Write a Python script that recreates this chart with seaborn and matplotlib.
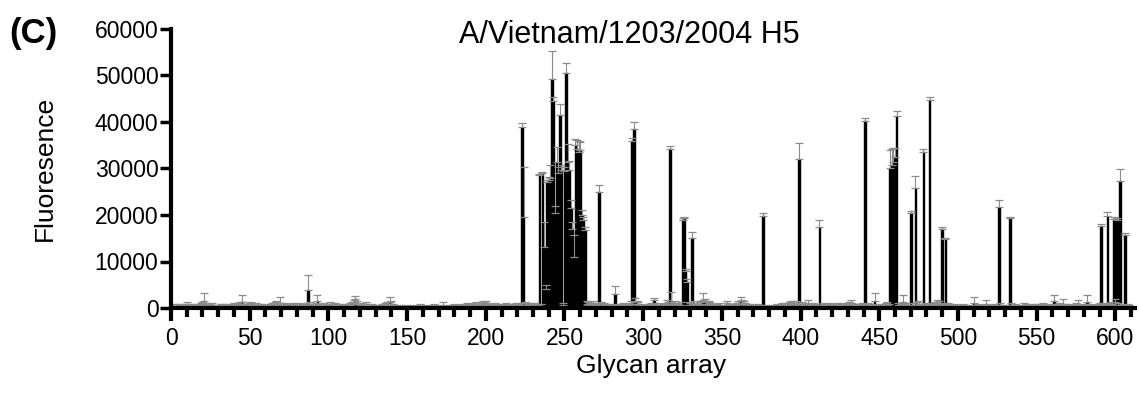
import numpy as np
import pandas as pd
import matplotlib
matplotlib.use("Agg")
import matplotlib.pyplot as plt
import seaborn as sns

# ---------------- data ----------------
# background signal of the 610 glycans (in units of 100 RFU), 10 per row
baseline_hundreds = [
    3, 5, 2, 4, 6, 3, 2, 5, 4, 7,
    5, 3, 4, 6, 2, 3, 5, 4, 6, 8,
    15, 6, 4, 3, 5, 7, 4, 3, 2, 4,
    3, 5, 4, 2, 6, 3, 4, 5, 3, 6,
    4, 6, 5, 7, 13, 8, 5, 4, 3, 6,
    7, 5, 4, 6, 3, 5, 4, 3, 2, 4,
    5, 3, 4, 6, 5, 7, 8, 6, 10, 5,
    4, 6, 5, 3, 4, 5, 6, 4, 3, 5,
    6, 4, 5, 3, 4, 6, 39, 7, 5, 4,
    5, 6, 14, 5, 4, 3, 6, 4, 5, 3,
    7, 5, 4, 6, 3, 5, 4, 3, 5, 4,
    3, 5, 4, 6, 8, 12, 20, 10, 5, 4,
    6, 4, 5, 7, 5, 3, 4, 5, 3, 4,
    3, 2, 4, 5, 3, 6, 8, 7, 12, 9,
    5, 4, 3, 2, 3, 4, 2, 3, 4, 3,
    2, 3, 2, 4, 3, 2, 3, 5, 4, 3,
    3, 4, 3, 2, 3, 4, 5, 3, 2, 3,
    4, 3, 5, 4, 3, 2, 3, 4, 3, 5,
    4, 3, 2, 4, 5, 3, 4, 6, 5, 4,
    6, 5, 4, 7, 5, 4, 6, 8, 7, 9,
    6, 5, 4, 3, 5, 6, 4, 5, 4, 3,
    5, 4, 6, 5, 4, 3, 5, 4, 6, 5,
    5, 6, 4, 5, 7, 6, 5, 4, 6, 5,
    6, 5, 4, 6, 5, 4, 5, 6, 5, 4,
    5, 6, 5, 4, 5, 6, 5, 4, 6, 5,
    5, 6, 5, 4, 5, 6, 5, 4, 6, 5,
    5, 6, 8, 9, 7, 6, 5, 8, 6, 5,
    6, 5, 7, 4, 6, 5, 4, 5, 3, 4,
    5, 30, 4, 3, 5, 4, 6, 3, 4, 5,
    6, 8, 5, 4, 12, 9, 7, 5, 4, 3,
    4, 3, 5, 4, 6, 5, 18, 6, 4, 3,
    4, 5, 6, 4, 9, 7, 5, 13, 6, 8,
    6, 5, 4, 7, 5, 5, 5, 5, 7, 6,
    5, 8, 6, 5, 4, 7, 9, 18, 12, 8,
    7, 12, 6, 5, 4, 3, 5, 6, 4, 3,
    4, 3, 10, 5, 4, 3, 5, 4, 6, 9,
    8, 15, 10, 9, 6, 5, 4, 3, 5, 4,
    3, 4, 5, 3, 4, 5, 3, 4, 2, 3,
    4, 3, 2, 4, 5, 3, 4, 6, 5, 4,
    6, 5, 7, 8, 6, 9, 8, 6, 5, 4,
    7, 5, 4, 6, 9, 5, 4, 6, 5, 4,
    3, 5, 4, 6, 5, 4, 3, 5, 6, 4,
    5, 4, 3, 6, 5, 4, 6, 5, 4, 5,
    7, 10, 6, 5, 4, 3, 5, 4, 6, 5,
    5, 4, 6, 5, 4, 3, 15, 5, 4, 3,
    4, 5, 3, 6, 7, 5, 8, 5, 5, 5,
    5, 6, 4, 5, 12, 5, 6, 4, 3, 5,
    6, 4, 5, 7, 8, 5, 4, 5, 6, 4,
    5, 4, 6, 5, 7, 6, 10, 9, 6, 5,
    5, 5, 4, 6, 5, 4, 3, 5, 4, 3,
    4, 3, 5, 4, 3, 4, 2, 3, 4, 10,
    4, 3, 5, 4, 3, 2, 4, 8, 4, 3,
    3, 4, 5, 3, 4, 5, 6, 4, 3, 4,
    3, 4, 5, 6, 4, 5, 3, 4, 2, 3,
    4, 6, 5, 4, 3, 4, 5, 3, 4, 5,
    4, 5, 3, 6, 4, 5, 4, 3, 4, 5,
    15, 5, 4, 6, 5, 4, 8, 5, 4, 3,
    4, 5, 3, 4, 6, 7, 5, 4, 3, 4,
    5, 12, 4, 3, 5, 4, 3, 4, 5, 6,
    5, 6, 5, 4, 5, 6, 7, 5, 6, 12,
    5, 6, 5, 4, 5, 6, 4, 5, 4, 3,
]

# SEM of the background signal (units of 100 RFU)
baseline_err_hundreds = [
    2, 3, 2, 4, 3, 2, 3, 4, 2, 5,
    3, 2, 4, 3, 2, 3, 4, 3, 4, 5,
    18, 4, 3, 2, 3, 4, 3, 2, 2, 3,
    2, 3, 4, 2, 3, 2, 3, 4, 2, 4,
    3, 4, 3, 5, 16, 5, 3, 3, 2, 4,
    5, 3, 3, 4, 2, 3, 4, 2, 2, 3,
    3, 2, 3, 4, 3, 5, 6, 4, 14, 3,
    3, 4, 3, 2, 3, 4, 5, 3, 2, 3,
    4, 3, 3, 2, 3, 4, 33, 5, 3, 3,
    4, 5, 15, 3, 3, 2, 4, 3, 4, 2,
    5, 4, 3, 4, 2, 3, 3, 2, 4, 3,
    2, 3, 3, 4, 5, 5, 6, 6, 4, 3,
    4, 3, 3, 5, 4, 2, 3, 4, 2, 3,
    2, 2, 3, 4, 2, 4, 5, 5, 12, 6,
    3, 3, 2, 2, 2, 3, 2, 2, 3, 2,
    2, 2, 2, 3, 2, 2, 2, 4, 3, 2,
    2, 3, 2, 2, 2, 3, 4, 2, 2, 2,
    3, 2, 8, 3, 2, 2, 2, 3, 2, 4,
    3, 2, 2, 3, 4, 2, 3, 5, 4, 3,
    5, 4, 3, 6, 4, 3, 5, 6, 5, 7,
    5, 4, 3, 2, 4, 5, 3, 4, 3, 2,
    4, 3, 5, 4, 3, 2, 4, 3, 5, 4,
    4, 5, 3, 4, 5, 4, 3, 3, 4, 4,
    5, 4, 3, 4, 4, 3, 4, 5, 4, 3,
    4, 5, 4, 3, 4, 5, 4, 3, 5, 4,
    4, 5, 4, 3, 4, 5, 4, 3, 5, 4,
    4, 5, 6, 7, 5, 4, 4, 6, 5, 4,
    5, 4, 5, 3, 5, 4, 3, 4, 2, 3,
    4, 18, 3, 2, 4, 3, 5, 2, 3, 4,
    5, 6, 4, 3, 10, 7, 5, 4, 3, 2,
    3, 2, 4, 3, 5, 4, 4, 5, 3, 2,
    3, 4, 5, 3, 8, 6, 4, 22, 5, 6,
    5, 4, 3, 6, 4, 4, 4, 4, 6, 5,
    4, 6, 5, 4, 3, 6, 7, 15, 8, 6,
    5, 4, 5, 4, 3, 2, 4, 5, 3, 2,
    3, 2, 6, 4, 3, 2, 4, 3, 5, 7,
    6, 8, 7, 7, 5, 4, 3, 2, 4, 3,
    2, 3, 4, 2, 3, 4, 2, 3, 2, 2,
    3, 2, 2, 3, 4, 2, 3, 5, 4, 3,
    5, 4, 6, 6, 5, 7, 6, 5, 4, 3,
    6, 4, 3, 5, 8, 4, 3, 5, 4, 3,
    2, 4, 3, 5, 4, 3, 2, 4, 5, 3,
    4, 3, 2, 5, 4, 3, 5, 4, 3, 4,
    5, 8, 5, 4, 3, 2, 4, 3, 5, 4,
    4, 3, 5, 4, 3, 2, 18, 4, 3, 2,
    3, 4, 2, 5, 6, 4, 6, 4, 4, 4,
    4, 5, 3, 4, 16, 4, 5, 3, 2, 4,
    5, 3, 4, 5, 6, 4, 3, 4, 5, 3,
    4, 3, 5, 4, 5, 5, 8, 7, 5, 4,
    4, 4, 3, 5, 4, 3, 2, 4, 3, 2,
    3, 2, 4, 3, 2, 3, 2, 2, 3, 14,
    3, 2, 4, 3, 2, 2, 3, 10, 3, 2,
    2, 3, 4, 2, 3, 4, 5, 3, 2, 3,
    2, 3, 4, 5, 3, 4, 2, 3, 2, 2,
    3, 5, 4, 3, 2, 3, 4, 2, 3, 4,
    3, 4, 2, 5, 3, 4, 3, 2, 3, 4,
    14, 4, 3, 5, 4, 3, 12, 4, 3, 2,
    3, 4, 2, 3, 5, 11, 4, 3, 2, 3,
    4, 17, 3, 2, 4, 3, 2, 3, 4, 5,
    4, 5, 4, 3, 4, 5, 6, 4, 5, 8,
    4, 5, 4, 3, 4, 5, 3, 4, 3, 2,
]

# strongly bound glycans (RFU and SEM)
peak_ids = [223, 224, 234, 236, 237, 238, 239, 240, 241, 242, 243, 244, 245, 246,
            247, 248, 249, 250, 251, 252, 253, 254, 255, 256, 257, 258, 259, 260,
            261, 262, 263, 272, 282, 293, 294, 317, 325, 326, 327, 328, 331, 376,
            399, 412, 441, 457, 458, 459, 460, 461, 470, 473, 478, 482, 490, 492,
            526, 533, 591, 595, 599, 601, 603, 606]
peak_rfu = [39000, 19500, 28500, 29000, 13200, 4000, 27000, 27500, 28000, 49200, 44500, 20500, 31500, 29000,
            41600, 29700, 700, 29500, 50500, 31300, 29700, 21500, 17000, 11000, 35000, 34200, 33500, 34000,
            20000, 18900, 16800, 25000, 3000, 36000, 38400, 34100, 19000, 19300, 8000, 5500, 15100, 19800,
            32000, 17500, 40200, 30000, 30800, 31500, 32500, 41300, 20400, 25700, 33500, 44700, 17000, 14800,
            21800, 19300, 17600, 19800, 19100, 19000, 27400, 15700]
peak_err = [800, 10800, 400, 300, 5400, 900, 600, 700, 2800, 6000, 900, 1500, 3200, 1400,
            2300, 1000, 300, 800, 2100, 4000, 1900, 1700, 1500, 4600, 1300, 2000, 2400, 1700,
            1000, 700, 600, 1400, 1800, 600, 1500, 800, 300, 300, 400, 800, 1300, 600,
            3400, 1400, 700, 4000, 3500, 3000, 2000, 1100, 400, 2700, 700, 600, 400, 300,
            1400, 300, 500, 800, 400, 400, 2500, 500]

x_major_ticks = list(range(0, 601, 50))
y_ticks = [0, 10000, 20000, 30000, 40000, 50000, 60000]

# ---------------- assemble ----------------
glycan = np.arange(1, len(baseline_hundreds) + 1)
rfu = np.array(baseline_hundreds, dtype=float) * 100
sem = np.array(baseline_err_hundreds, dtype=float) * 100
for gid, v, e in zip(peak_ids, peak_rfu, peak_err):
    rfu[gid - 1] = v
    sem[gid - 1] = e
df = pd.DataFrame({"glycan": glycan, "rfu": rfu, "sem": sem})

# ---------------- style ----------------
sns.set_theme(style="ticks")
plt.rcParams["font.family"] = ["Liberation Sans", "DejaVu Sans"]
plt.rcParams["text.color"] = "black"
plt.rcParams["axes.labelcolor"] = "black"
plt.rcParams["xtick.color"] = "black"
plt.rcParams["ytick.color"] = "black"
plt.rcParams["xtick.labelcolor"] = "black"
plt.rcParams["ytick.labelcolor"] = "black"

fig = plt.figure(figsize=(11.39, 3.96), dpi=100)
ax = fig.add_axes([171 / 1139, 1 - 308 / 396, (1135 - 171) / 1139, (308 - 29) / 396])

sns.barplot(data=df, x="glycan", y="rfu", native_scale=True, color="black",
            saturation=1, width=1.0, edgecolor="black", linewidth=1.0,
            errorbar=None, ax=ax, zorder=2)
ax.errorbar(df["glycan"], df["rfu"], yerr=[np.zeros(len(df)), df["sem"]],
            fmt="none", ecolor="#8c8c8c", elinewidth=0.8, capsize=2.6,
            capthick=0.9, zorder=3)

ax.set_xlim(0, 612.5)
ax.set_ylim(0, 60000)
ax.set_xticks(x_major_ticks)
ax.set_xticklabels([str(t) for t in x_major_ticks])
ax.set_xticks(np.arange(0, 611, 10), minor=True)
ax.set_yticks(y_ticks)
ax.set_yticklabels([str(t) for t in y_ticks])

sns.despine(ax=ax)
for side in ("left", "bottom"):
    ax.spines[side].set_linewidth(3)
    ax.spines[side].set_color("black")
    ax.spines[side].set_zorder(4)

ax.tick_params(axis="x", which="major", length=9.5, width=3, direction="out",
               labelsize=16.5, pad=4.5, color="black", labelcolor="black")
ax.tick_params(axis="x", which="minor", length=6.5, width=3, direction="out",
               color="black")
ax.tick_params(axis="y", which="major", length=8, width=2.5, direction="out",
               labelsize=16.5, pad=1, color="black", labelcolor="black")
ax.set_xlabel("")
ax.set_ylabel("")
ax.grid(False)

fig.text(45 / 1139, 1 - 168 / 396, "Fluoresence", rotation=90, ha="center",
         va="center", fontsize=19, color="black")
fig.text(651 / 1139, 1 - 366 / 396, "Glycan array", ha="center", va="center",
         fontsize=19, color="black")
fig.text(629 / 1139, 1 - 43 / 396, "A/Vietnam/1203/2004 H5", ha="center",
         va="baseline", fontsize=22, color="black")
fig.text(9 / 1139, 1 - 43 / 396, "(C)", ha="left", va="baseline",
         fontsize=25, fontweight="bold", color="black")

fig.savefig("out.png", dpi=100, facecolor="white")
